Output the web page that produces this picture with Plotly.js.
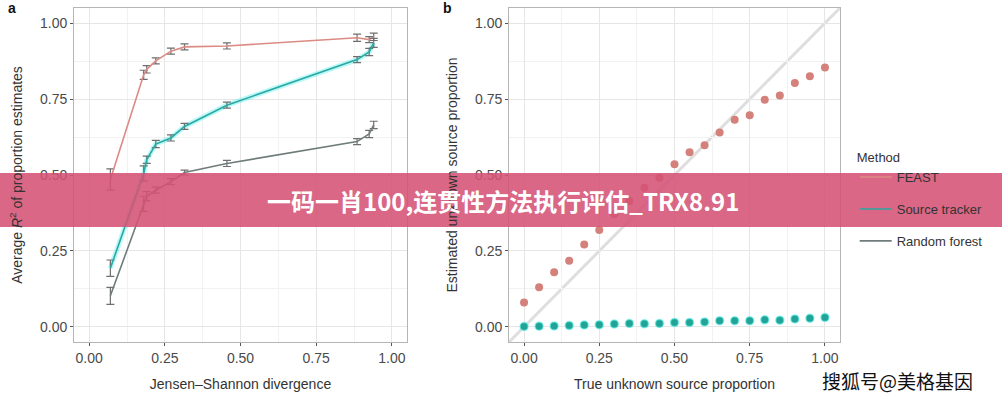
<!DOCTYPE html>
<html><head><meta charset="utf-8">
<script src="https://cdn.plot.ly/plotly-3.0.1.min.js"></script>
<style>html,body{margin:0;padding:0;background:#fff}#chart{width:1002px;height:400px}</style>
</head><body><div id="chart"></div>
<script>
// Panel a: Jensen–Shannon divergence vs average R^2
const jsd = [0.07, 0.18, 0.19, 0.22, 0.27, 0.315, 0.455, 0.885, 0.925, 0.94];
const feastR2 = [0.485, 0.830, 0.848, 0.876, 0.908, 0.922, 0.925, 0.952, 0.946, 0.955];
const feastErr = [0.035, 0.015, 0.012, 0.010, 0.010, 0.010, 0.010, 0.012, 0.010, 0.012];
const stR2 = [0.193, 0.505, 0.550, 0.602, 0.622, 0.660, 0.730, 0.880, 0.905, 0.935];
const stErr = [0.027, 0.025, 0.012, 0.012, 0.010, 0.010, 0.010, 0.010, 0.012, 0.015];
const rfR2 = [0.102, 0.405, 0.430, 0.450, 0.478, 0.508, 0.538, 0.610, 0.635, 0.665];
const rfErr = [0.028, 0.025, 0.015, 0.010, 0.010, 0.008, 0.010, 0.010, 0.012, 0.012];

// Panel b: true vs estimated unknown source proportion
const trueProp = [0, 0.05, 0.10, 0.15, 0.20, 0.25, 0.30, 0.35, 0.40, 0.45, 0.50, 0.55, 0.60, 0.65, 0.70, 0.75, 0.80, 0.85, 0.90, 0.95, 1.00];
const feastEst = [0.080, 0.130, 0.180, 0.218, 0.271, 0.319, 0.371, 0.414, 0.458, 0.491, 0.535, 0.575, 0.598, 0.640, 0.682, 0.697, 0.748, 0.762, 0.803, 0.825, 0.854];
const stEst = [0.001, 0.002, 0.003, 0.004, 0.006, 0.007, 0.009, 0.011, 0.010, 0.011, 0.014, 0.014, 0.016, 0.020, 0.020, 0.020, 0.023, 0.022, 0.026, 0.028, 0.031];

const methods = ['FEAST', 'Source tracker', 'Random forest'];
const tickVals = [0, 0.25, 0.5, 0.75, 1];
const tickText = ['0.00', '0.25', '0.50', '0.75', '1.00'];

const cFeast = '#dc8a84';
const cST = '#2aa9a2';
const cRF = '#6f7c7b';
const errStyle = (arr) => ({type: 'data', array: arr, visible: true, color: '#6f6f6f', thickness: 1.2, width: 4});

const traces = [
  {x: jsd, y: stR2, mode: 'lines', line: {color: 'rgba(60,235,235,0.35)', width: 5}, showlegend: false, hoverinfo: 'skip', xaxis: 'x', yaxis: 'y'},
  {x: jsd, y: feastR2, name: methods[0], legendgroup: 'g1', mode: 'lines', line: {color: cFeast, width: 1.6}, error_y: errStyle(feastErr), xaxis: 'x', yaxis: 'y'},
  {x: jsd, y: stR2, name: methods[1], legendgroup: 'g2', mode: 'lines', line: {color: cST, width: 1.6}, error_y: errStyle(stErr), xaxis: 'x', yaxis: 'y'},
  {x: jsd, y: rfR2, name: methods[2], legendgroup: 'g3', mode: 'lines', line: {color: cRF, width: 1.6}, error_y: errStyle(rfErr), xaxis: 'x', yaxis: 'y'},
  {x: trueProp, y: feastEst, mode: 'markers', marker: {color: '#d4807b', size: 8}, showlegend: false, xaxis: 'x2', yaxis: 'y2'},
  {x: trueProp, y: stEst, mode: 'markers', marker: {color: '#22a396', size: 8, line: {color: 'rgba(90,240,235,0.6)', width: 1.5}}, showlegend: false, xaxis: 'x2', yaxis: 'y2'}
];

const font = {family: 'Liberation Sans, Arial, sans-serif', size: 14, color: '#4d4d4d'};
function ax(domain, anchor, titleText, isY) {
  return {
    domain: domain, anchor: anchor, range: [-0.05, 1.05],
    tickvals: tickVals, ticktext: tickText,
    ticks: 'outside', ticklen: 3, tickcolor: '#555', tickwidth: 1,
    tickfont: {family: font.family, size: 14, color: '#4a4a4a'},
    showgrid: true, gridcolor: '#e6e6e6', gridwidth: 1,
    minor: {dtick: 0.125, tick0: 0, showgrid: true, gridcolor: '#f2f2f2', gridwidth: 1, ticks: ''},
    zeroline: false, showline: true, mirror: true, linecolor: '#b5b5b5', linewidth: 1,
    title: {text: titleText, font: {family: font.family, size: 14, color: '#333'}, standoff: isY ? 14 : 14},
    fixedrange: true
  };
}

const layout = {
  width: 1002, height: 400,
  margin: {l: 0, r: 0, t: 0, b: 0},
  paper_bgcolor: '#fff', plot_bgcolor: '#fff',
  font: font,
  xaxis: ax([0.0739, 0.4062], 'y', 'Jensen–Shannon divergence', false),
  yaxis: ax([0.145, 0.98], 'x', 'Average <i>R</i><sup>2</sup> of proportion estimates', true),
  xaxis2: ax([0.508, 0.8383], 'y2', 'True unknown source proportion', false),
  yaxis2: ax([0.145, 0.98], 'x2', 'Estimated unknown source proportion', true),
  showlegend: true,
  legend: {
    x: 0.853, y: 0.637, xanchor: 'left', yanchor: 'top',
    title: {text: 'Method', font: {size: 13, color: '#333'}},
    font: {size: 13, color: '#333'},
    tracegroupgap: 12, itemwidth: 32, bgcolor: 'rgba(0,0,0,0)'
  },
  shapes: [
    {type: 'line', xref: 'x2', yref: 'y2', x0: -0.05, y0: -0.05, x1: 1.05, y1: 1.05, line: {color: 'rgba(200,200,200,0.6)', width: 3}, layer: 'below'},
    {type: 'rect', xref: 'paper', yref: 'paper', x0: 0, x1: 1, y0: 1 - 227/400, y1: 1 - 173/400, fillcolor: 'rgba(212,82,116,0.88)', line: {width: 0}, layer: 'above'}
  ],
  annotations: [
    {text: '<b>a</b>', xref: 'paper', yref: 'paper', x: 12/1002, y: 1, xanchor: 'center', yanchor: 'top', yshift: 2, showarrow: false, font: {size: 14, color: '#111'}},
    {text: '<b>b</b>', xref: 'paper', yref: 'paper', x: 447/1002, y: 1, xanchor: 'center', yanchor: 'top', yshift: 2, showarrow: false, font: {size: 14, color: '#111'}},
    {text: '<b>一码一肖100,连贯性方法执行评估_TRX8.91</b>', xref: 'paper', yref: 'paper', x: 0.502, y: 1 - 200/400, xanchor: 'center', yanchor: 'middle', showarrow: false, font: {family: 'Noto Sans CJK SC, sans-serif', size: 24, color: '#fff'}},
    {text: '搜狐号@美格基因', xref: 'paper', yref: 'paper', x: 897/1002, y: 1 - 380/400, xanchor: 'center', yanchor: 'middle', showarrow: false, font: {family: 'Noto Sans CJK SC, sans-serif', size: 19, color: '#111'}}
  ]
};

Plotly.newPlot('chart', traces, layout, {displayModeBar: false, staticPlot: true});
</script></body></html>
